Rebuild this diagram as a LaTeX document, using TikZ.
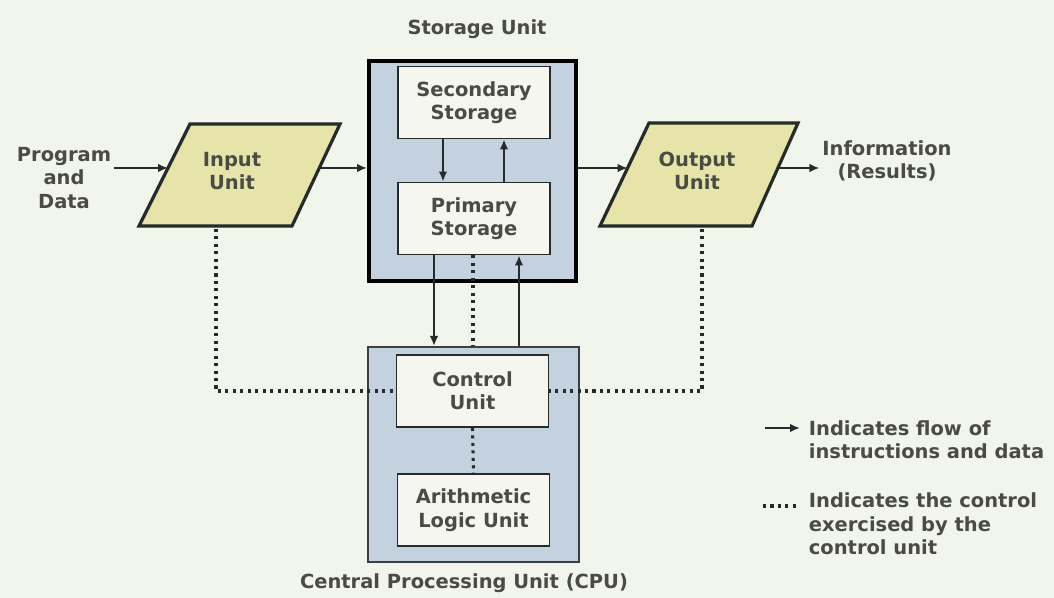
\documentclass[tikz,border=0pt]{standalone}
\usepackage{fontspec}
\setmainfont{DejaVu Sans}
\usetikzlibrary{arrows.meta,calc}
\definecolor{bgc}{HTML}{F2F5EC}
\definecolor{bluef}{HTML}{C4D2DF}
\definecolor{khaki}{HTML}{E6E4A8}
\definecolor{innerf}{HTML}{F4F6EF}
\definecolor{linec}{HTML}{252A2A}
\definecolor{txtc}{HTML}{494B44}
\tikzset{
  every node/.style={font=\bfseries\fontsize{14.6pt}{17.6pt}\selectfont, text=txtc, align=center},
  lbl/.style={inner sep=2pt},
  box/.style={draw=linec, line width=1.4pt, fill=innerf, minimum width=114pt, minimum height=54pt, inner sep=0pt},
  para/.style={draw=linec, line width=2.4pt, fill=khaki, line join=miter},
  arr/.style={draw=linec, line width=1.5pt, -{Latex[length=7.5pt,width=6.5pt]}},
  ctl/.style={draw=linec, line width=2.3pt, dash pattern=on 2.3pt off 3.3pt},
}
\begin{document}
\begin{tikzpicture}[x=0.75pt,y=-0.75pt]
\useasboundingbox (0,0) rectangle (1054,598);
\fill[bgc] (0,0) rectangle (1054,598);

% storage unit
\node[lbl] (stitle) at (477,29) {Storage Unit};
\node[draw=black, line width=3pt, fill=bluef, minimum width=155.25pt, minimum height=165pt] (stor) at (472.5,171) {};
\node[box] (sec) at (474,102.5) {Secondary\\Storage};
\node[box] (prim) at (474,218.5) {Primary\\Storage};

% CPU
\node[draw=linec!90, line width=1.5pt, fill=bluef, minimum width=158.25pt, minimum height=161.25pt] (cpu) at (473.5,454.5) {};
\node[box] (ctrl) at (472.5,391) {Control\\Unit};
\node[box] (alu) at (473.5,510) {Arithmetic\\Logic Unit};
\node[lbl] (ctitle) at (464,583) {Central Processing Unit (CPU)};

% input / output parallelograms
\coordinate (inBL) at (139,226);
\coordinate (inBR) at (292,226);
\coordinate (inTR) at (340,124);
\coordinate (inTL) at (190,124);
\filldraw[para] (inBL) -- (inBR) -- (inTR) -- (inTL) -- cycle;
\node[lbl] (in) at (232,171) {Input\\Unit};

\coordinate (outBL) at (600,226);
\coordinate (outBR) at (752,226);
\coordinate (outTR) at (798,123);
\coordinate (outTL) at (649,123);
\filldraw[para] (outBL) -- (outBR) -- (outTR) -- (outTL) -- cycle;
\node[lbl] (out) at (697,171) {Output\\Unit};

\node[lbl] (prog) at (64,178) {Program\\and\\Data};
\node[lbl] (info) at (887,161) {Information\\(Results)};

\coordinate (inL) at ($(inBL)!0.569!(inTL)$);
\coordinate (inR) at ($(inBR)!0.569!(inTR)$);
\coordinate (outL) at ($(outBL)!0.563!(outTL)$);
\coordinate (outR) at ($(outBR)!0.563!(outTR)$);
\coordinate (inS) at (216,226);
\coordinate (outS) at (702,226);

% flow arrows
\draw[arr] (prog.east |- inL) -- (inL);
\draw[arr] (inR) -- (stor.west |- inR);
\draw[arr] (stor.east |- outL) -- (outL);
\draw[arr] (outR) -- (info.west |- outR);

\draw[arr] ([xshift=-23.25pt]sec.south) -- ([xshift=-23.25pt]prim.north);
\draw[arr] ([xshift=22.5pt]prim.north) -- ([xshift=22.5pt]sec.south);
\draw[arr] ([xshift=-30pt]prim.south) -- ([xshift=-30pt]prim.south |- cpu.north);
\draw[arr] ([xshift=33.75pt]prim.south |- cpu.north) -- ([xshift=33.75pt]prim.south);

% control lines
\draw[ctl] ([xshift=-0.75pt]prim.south) -- ([xshift=-0.75pt]prim.south |- cpu.north);
\draw[ctl] ([yshift=-2pt]inS) |- (ctrl.west);
\draw[ctl] ([yshift=-2pt]outS) |- (ctrl.east);
\draw[ctl] (ctrl.south) -- (alu.north);

% legend
\coordinate (la1) at (765,428);
\coordinate (la2) at (800,428);
\draw[arr] (la1) -- (la2);
\node[lbl, anchor=west, align=left] (leg1) at (806,439.5) {Indicates flow of\\instructions and data};
\coordinate (ld1) at (763,506);
\coordinate (ld2) at (800,506);
\draw[ctl] (ld1) -- (ld2);
\node[lbl, anchor=west, align=left] (leg2) at (806,524) {Indicates the control\\exercised by the\\control unit};
\end{tikzpicture}
\end{document}
